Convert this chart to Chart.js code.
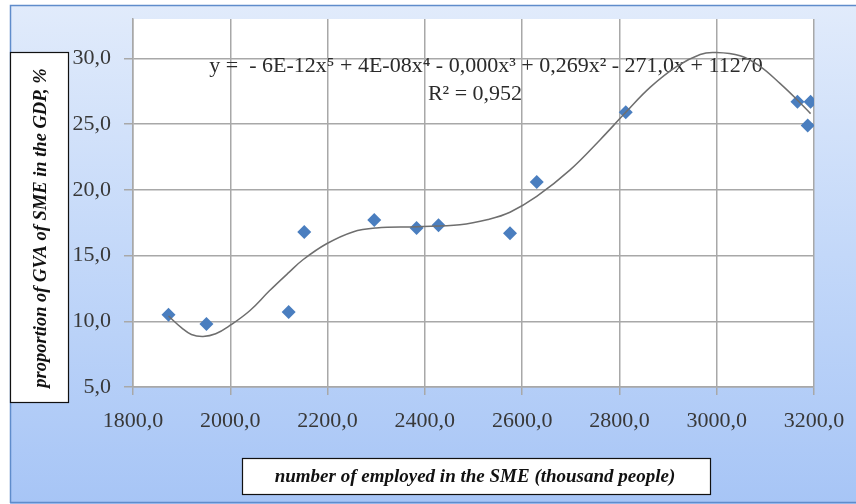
<!DOCTYPE html>
<html>
<head>
<meta charset="utf-8">
<script src="https://cdn.jsdelivr.net/npm/chart.js@4.4.0/dist/chart.umd.min.js"></script>
<style>
  html, body { margin: 0; padding: 0; background: #fff; }
  #wrap { width: 856px; height: 504px; }
</style>
</head>
<body>
<div id="wrap"><canvas id="chart" width="856" height="504"></canvas></div>
<script>
// employed in SME (thousand people) vs share of SME in GVA/GDP (%)
const employed = [1873, 1951, 2120, 2152, 2296, 2383, 2428, 2575, 2630, 2813, 3166, 3193, 3187];
const gvaShare = [10.5, 9.8, 10.7, 16.8, 17.7, 17.1, 17.3, 16.7, 20.6, 25.9, 26.7, 26.7, 24.9];

// poly (5th order) trendline
const trendX = [1873, 1900, 1920, 1944, 1970, 2000, 2040, 2080, 2120, 2150, 2198, 2252, 2300, 2383, 2472,
                2530, 2575, 2630, 2698, 2760, 2813, 2863, 2918, 2966, 2995, 3048, 3089, 3130, 3164, 3193];
const trendY = [10.4, 9.5, 9.0, 8.85, 9.05, 9.7, 10.8, 12.3, 13.7, 14.7, 15.9, 16.8, 17.1, 17.2, 17.35,
                17.75, 18.3, 19.5, 21.5, 23.8, 25.9, 27.8, 29.4, 30.3, 30.45, 30.2, 29.4, 28.1, 26.9, 25.8];

const xTicks = [1800, 2000, 2200, 2400, 2600, 2800, 3000, 3200];
const yTicks = [5, 10, 15, 20, 25, 30];
const equation = 'y =  - 6E-12x⁵ + 4E-08x⁴ - 0,000x³ + 0,269x² - 271,0x + 11270';
const rSquared = 'R² = 0,952';
const xTitle = 'number of employed in the SME (thousand people)';
const yTitle = 'proportion of GVA of SME in the GDP, %';

const serif = 'Liberation Serif, Times New Roman, serif';
const fmt = v => Number(v).toFixed(1).replace('.', ',');

const decor = {
  id: 'decor',
  beforeDraw(chart) {
    const ctx = chart.ctx, a = chart.chartArea;
    ctx.save();
    ctx.fillStyle = '#fff';
    ctx.fillRect(0, 0, 856, 504);
    const g = ctx.createLinearGradient(0, 5, 0, 504);
    g.addColorStop(0, '#e1ebfb');
    g.addColorStop(0.5, '#c3d8f9');
    g.addColorStop(1, '#a7c5f6');
    ctx.fillStyle = g;
    ctx.fillRect(10, 5, 846, 499);
    ctx.strokeStyle = '#5f8ccb';
    ctx.lineWidth = 1.5;
    ctx.beginPath();
    ctx.moveTo(10.5, 503);
    ctx.lineTo(10.5, 5.5);
    ctx.lineTo(856, 5.5);
    ctx.moveTo(10.5, 502.5);
    ctx.lineTo(856, 502.5);
    ctx.stroke();
    ctx.fillStyle = '#fff';
    ctx.fillRect(a.left, a.top, a.right - a.left, a.bottom - a.top);

    // axis title boxes
    ctx.fillStyle = '#fff';
    ctx.strokeStyle = '#111';
    ctx.lineWidth = 1.2;
    ctx.fillRect(10, 52, 58, 350);
    ctx.strokeRect(10.5, 52.5, 58, 350);
    ctx.fillRect(242, 458, 468, 36);
    ctx.strokeRect(242.5, 458.5, 468, 36);
    ctx.fillStyle = '#111';
    ctx.textAlign = 'center';
    ctx.textBaseline = 'middle';
    ctx.font = 'italic bold 19px ' + serif;
    ctx.fillText(xTitle, 475, 477);
    ctx.font = 'italic bold 18.5px ' + serif;
    ctx.translate(41, 228);
    ctx.rotate(-Math.PI / 2);
    ctx.fillText(yTitle, 0, 0);
    ctx.restore();
  },
  beforeDatasetsDraw(chart) {
    const ctx = chart.ctx;
    ctx.save();
    ctx.fillStyle = '#2b2b2b';
    ctx.font = '22px ' + serif;
    ctx.textAlign = 'center';
    ctx.textBaseline = 'middle';
    ctx.fillText(equation, 486, 66);
    ctx.fillText(rSquared, 475, 94);
    ctx.restore();
  }
};

new Chart(document.getElementById('chart'), {
  type: 'scatter',
  data: {
    datasets: [
      {
        label: 'trend',
        data: trendX.map((x, i) => ({ x: x, y: trendY[i] })),
        showLine: true,
        borderColor: '#6e6e6e',
        borderWidth: 1.5,
        pointRadius: 0,
        tension: 0.4,
        fill: false
      },
      {
        label: 'data',
        data: employed.map((x, i) => ({ x: x, y: gvaShare[i] })),
        pointStyle: 'rectRot',
        pointRadius: 7,
        backgroundColor: '#4a7ebf',
        borderColor: '#4a7ebf',
        borderWidth: 0
      }
    ]
  },
  options: {
    responsive: false,
    animation: false,
    layout: { padding: { top: 19, right: 42, bottom: 0, left: 0 } },
    plugins: { legend: { display: false }, tooltip: { enabled: false } },
    scales: {
      x: {
        type: 'linear',
        min: 1800,
        max: 3200,
        afterBuildTicks: s => { s.ticks = xTicks.map(v => ({ value: v })); },
        afterFit: s => { s.height = 117; s.paddingLeft = 0; s.paddingRight = 0; },
        grid: { color: '#a8a8a8', lineWidth: 1.5, tickLength: 8 },
        border: { color: '#a8a8a8', width: 1.5 },
        ticks: {
          font: { family: serif, size: 22 },
          color: '#383838',
          padding: 13,
          maxRotation: 0,
          autoSkip: false,
          callback: v => fmt(v)
        }
      },
      y: {
        min: 5,
        max: 33,
        afterBuildTicks: s => { s.ticks = yTicks.map(v => ({ value: v })); },
        afterFit: s => { s.width = 133; s.paddingTop = 0; s.paddingBottom = 0; },
        grid: { color: '#a8a8a8', lineWidth: 1.5, tickLength: 9 },
        border: { color: '#a8a8a8', width: 1.5 },
        ticks: {
          font: { family: serif, size: 22 },
          color: '#383838',
          padding: 13,
          autoSkip: false,
          callback: v => fmt(v)
        }
      }
    }
  },
  plugins: [decor]
});
</script>
</body>
</html>
